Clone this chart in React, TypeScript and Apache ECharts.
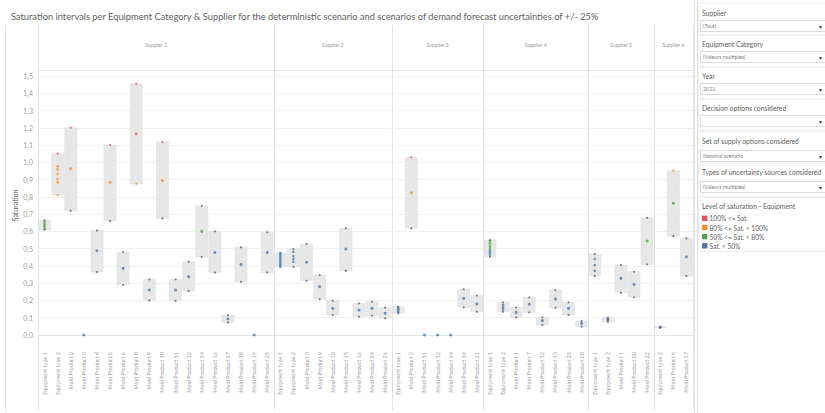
import React, { useEffect, useRef } from "react";
import * as echarts from "echarts";

// ---------- DATA ----------
const supplierNames = ["Supplier 1", "Supplier 2", "Supplier 3", "Supplier 4", "Supplier 5", "Supplier 6"];

const supplier1Categories = ["Equipment type 1", "Equipment type 2", "Mold Product 2", "Mold Product 3", "Mold Product 4", "Mold Product 5", "Mold Product 6", "Mold Product 8", "Mold Product 9", "Mold Product 10", "Mold Product 11", "Mold Product 12", "Mold Product 14", "Mold Product 16", "Mold Product 17", "Mold Product 18", "Mold Product 19", "Mold Product 25"];
const supplier1Low = [0.61, 0.81, 0.72, null, 0.365, 0.66, 0.29, 0.875, 0.2, 0.675, 0.198, 0.255, 0.452, 0.362, 0.072, 0.308, null, 0.362];
const supplier1High = [0.665, 1.05, 1.2, null, 0.605, 1.1, 0.48, 1.455, 0.322, 1.118, 0.322, 0.424, 0.748, 0.6, 0.115, 0.508, null, 0.595];
const supplier1Points = [[0.615, 0.625, 0.635, 0.645, 0.655], [0.978, 0.959, 0.932, 0.903, 0.884], [0.963], [0.0], [0.488], [0.884], [0.386], [1.165], [0.261], [0.895], [0.26], [0.338], [0.6], [0.478], [0.093], [0.409], [0.0], [0.478]];

const supplier2Categories = ["Equipment type 1", "Equipment type 2", "Mold Product 3", "Mold Product 9", "Mold Product 10", "Mold Product 15", "Mold Product 16", "Mold Product 24", "Mold Product 26"];
const supplier2Low = [0.395, 0.395, 0.314, 0.208, 0.116, 0.372, 0.106, 0.112, 0.097];
const supplier2High = [0.475, 0.498, 0.527, 0.347, 0.199, 0.618, 0.183, 0.193, 0.158];
const supplier2Points = [[0.47, 0.458, 0.446, 0.434, 0.422, 0.41, 0.4], [0.482, 0.457, 0.44, 0.424], [0.421], [0.28], [0.154], [0.498], [0.145], [0.154], [0.126]];

const supplier3Categories = ["Equipment type 1", "Mold Product 2", "Mold Product 11", "Mold Product 12", "Mold Product 14", "Mold Product 19", "Mold Product 21"];
const supplier3Low = [0.126, 0.618, null, null, null, 0.16, 0.135];
const supplier3High = [0.164, 1.029, null, null, null, 0.265, 0.228];
const supplier3Points = [[0.158, 0.15, 0.142, 0.134], [0.824], [0.0], [0.0], [0.0], [0.212], [0.18]];

const supplier4Categories = ["Equipment type 1", "Equipment type 2", "Mold Product 1", "Mold Product 7", "Mold Product 12", "Mold Product 13", "Mold Product 23", "Mold Product 28"];
const supplier4Low = [0.453, 0.135, 0.102, 0.131, 0.058, 0.158, 0.116, 0.048];
const supplier4High = [0.55, 0.189, 0.16, 0.218, 0.102, 0.26, 0.189, 0.081];
const supplier4Points = [[0.545, 0.53, 0.515, 0.503, 0.49, 0.478, 0.466], [0.174, 0.16, 0.148], [0.131], [0.178], [0.083], [0.208], [0.154], [0.067]];

const supplier5Categories = ["Equipment type 1", "Equipment type 2", "Mold Product 1", "Mold Product 20", "Mold Product 22"];
const supplier5Low = [0.342, 0.077, 0.245, 0.218, 0.409];
const supplier5High = [0.469, 0.1, 0.405, 0.367, 0.679];
const supplier5Points = [[0.44, 0.405, 0.371], [0.095, 0.09, 0.085], [0.328], [0.293], [0.544]];

const supplier6Categories = ["Equipment type 2", "Mold Product 6", "Mold Product 17"];
const supplier6Low = [0.042, 0.573, 0.342];
const supplier6High = [0.048, 0.951, 0.56];
const supplier6Points = [[0.045], [0.763], [0.453]];

const levelLabels = ["100% <= Sat.", "80% <= Sat. < 100%", "50% <= Sat. < 80%", "Sat. < 50%"];
const levelColors = ["#e15759", "#f28e2b", "#59a14f", "#4e79a7"];
const levelThresholds = [1.0, 0.8, 0.5];

const filterTitles = ["Supplier", "Equipment Category", "Year", "Decision options considered", "Set of supply options considered", "Types of uncertainty sources considered"];
const filterValues = ["(Tout)", "(Valeurs multiples)", "2021", "", "Nominal scenario", "(Valeurs multiples)"];

const titleText = "Saturation intervals per Equipment Category & Supplier for the deterministic scenario and scenarios of demand forecast uncertainties of +/- 25%";

// ---------- LAYOUT ----------
const FONT = 'Lato, "Open Sans", "Noto Sans", sans-serif';
const PLOT_LEFT = 38;
const BAND = 13.1;
const Y_TOP = 76; // pixel of 1.5
const Y_ZERO = 335; // pixel of 0.0
const CHART_H = 413;

const suppliers = [
  { cats: supplier1Categories, low: supplier1Low, high: supplier1High, pts: supplier1Points },
  { cats: supplier2Categories, low: supplier2Low, high: supplier2High, pts: supplier2Points },
  { cats: supplier3Categories, low: supplier3Low, high: supplier3High, pts: supplier3Points },
  { cats: supplier4Categories, low: supplier4Low, high: supplier4High, pts: supplier4Points },
  { cats: supplier5Categories, low: supplier5Low, high: supplier5High, pts: supplier5Points },
  { cats: supplier6Categories, low: supplier6Low, high: supplier6High, pts: supplier6Points },
];

function levelColor(v: number) {
  if (v >= levelThresholds[0]) return levelColors[0];
  if (v >= levelThresholds[1]) return levelColors[1];
  if (v >= levelThresholds[2]) return levelColors[2];
  return levelColors[3];
}
function boundColor(v: number) {
  if (v >= levelThresholds[1]) return levelColor(v);
  return "#5d6470";
}

function buildOption() {
  const grids: any[] = [];
  const xAxes: any[] = [];
  const topAxes: any[] = [];
  const yAxes: any[] = [];
  const series: any[] = [];
  const boundaries: number[] = [PLOT_LEFT];
  let cum = 0;
  suppliers.forEach((s, k) => {
    const left = PLOT_LEFT + BAND * cum;
    const width = BAND * s.cats.length;
    cum += s.cats.length;
    boundaries.push(PLOT_LEFT + BAND * cum);
    grids.push({ left, width, top: Y_TOP, height: Y_ZERO - Y_TOP, containLabel: false });
    xAxes.push({
      type: "category",
      gridIndex: k,
      data: s.cats,
      position: "bottom",
      offset: 13,
      axisLine: { show: true, lineStyle: { color: "#e4e4e4", width: 1 } },
      axisTick: { show: false },
      axisLabel: { rotate: 90, interval: 0, fontSize: 5.5, color: "#a0a0a0", margin: 4, fontFamily: FONT },
      splitLine: { show: false },
    });
    topAxes.push({
      type: "category",
      gridIndex: k,
      data: [""],
      position: "top",
      offset: 6,
      axisLine: { show: true, lineStyle: { color: "#e4e4e4", width: 1 } },
      axisTick: { show: false },
      axisLabel: { show: false },
      name: supplierNames[k],
      nameLocation: "middle",
      nameGap: 23,
      nameTextStyle: { fontSize: 5, color: "#999", fontFamily: FONT },
    });
    yAxes.push({
      type: "value",
      gridIndex: k,
      min: 0,
      max: 1.5,
      interval: 0.1,
      axisLine: { show: false },
      axisTick: { show: false },
      splitLine: { show: true, lineStyle: { color: "#f1f1f1", width: 1 } },
      axisLabel: {
        show: k === 0,
        fontSize: 7,
        color: "#a0a0a0",
        margin: 5,
        fontFamily: FONT,
        formatter: (v: number) => v.toFixed(1).replace(".", ","),
      },
      name: k === 0 ? "Saturation" : "",
      nameLocation: "middle",
      nameGap: 20,
      nameTextStyle: { fontSize: 7, color: "#555", fontFamily: FONT },
    });

    const boxData: any[] = [];
    const boundData: any[] = [];
    const pointData: any[] = [];
    s.cats.forEach((_, i) => {
      const lo = s.low[i];
      const hi = s.high[i];
      if (lo !== null && hi !== null) {
        boxData.push([i, lo, hi]);
        boundData.push({ value: [i, lo], itemStyle: { color: boundColor(lo as number) } });
        boundData.push({ value: [i, hi], itemStyle: { color: boundColor(hi as number) } });
      }
      const many = s.pts[i].length > 1;
      s.pts[i].forEach((v) => {
        pointData.push({ value: [i, v], symbolSize: many ? 2.6 : 3, itemStyle: { color: levelColor(v) } });
      });
    });

    series.push({
      type: "custom",
      xAxisIndex: k,
      yAxisIndex: k,
      z: 1,
      encode: { x: 0, y: [1, 2] },
      data: boxData,
      renderItem: (params: any, api: any) => {
        const x = api.value(0);
        const p0 = api.coord([x, api.value(1)]);
        const p1 = api.coord([x, api.value(2)]);
        const w = api.size([1, 0])[0] * 0.92;
        return {
          type: "rect",
          shape: { x: p0[0] - w / 2, y: p1[1], width: w, height: Math.max(p0[1] - p1[1], 1.2) },
          style: { fill: "#e7e7e7", stroke: "#dddddd", lineWidth: 0.5 },
        };
      },
    });
    series.push({
      type: "scatter",
      xAxisIndex: k,
      yAxisIndex: k,
      z: 2,
      symbolSize: 2.2,
      data: boundData,
    });
    series.push({
      type: "scatter",
      xAxisIndex: k,
      yAxisIndex: k,
      z: 3,
      symbolSize: 3,
      data: pointData,
    });
  });

  const graphic: any[] = [];
  graphic.push({
    type: "text",
    x: 11,
    y: 16,
    style: { text: titleText, fontSize: 9.3, fill: "#606060", fontFamily: FONT, textVerticalAlign: "middle" },
  });
  // frame lines
  graphic.push({ type: "line", shape: { x1: 5.5, y1: 25, x2: 5.5, y2: 412 }, style: { stroke: "#e6e6e6", lineWidth: 1 } });
  boundaries.forEach((bx) => {
    graphic.push({ type: "line", shape: { x1: Math.round(bx) + 0.5, y1: 25, x2: Math.round(bx) + 0.5, y2: 410 }, style: { stroke: "#e2e2e2", lineWidth: 1 } });
  });
  // right panel
  const PX = 697;
  graphic.push({ type: "line", shape: { x1: PX - 2.5, y1: 0, x2: PX - 2.5, y2: 413 }, style: { stroke: "#e6e6e6", lineWidth: 1 } });
  graphic.push({ type: "line", shape: { x1: PX + 0.5, y1: 0, x2: PX + 0.5, y2: 413 }, style: { stroke: "#e0e0e0", lineWidth: 1 } });
  const titleY = [12.5, 44, 76, 108, 141, 172];
  const boxY = [20.5, 51.5, 83.5, 115.5, 150.5, 181.5];
  filterTitles.forEach((t, i) => {
    graphic.push({
      type: "rect",
      shape: { x: PX + 1.5, y: titleY[i] - 9, width: 130, height: boxY[i] + 15 - (titleY[i] - 9) },
      style: { fill: "none", stroke: "#f0f0f0", lineWidth: 1 },
    });
    graphic.push({
      type: "text",
      x: 702,
      y: titleY[i],
      style: { text: t, fontSize: 6.8, fill: "#606060", fontFamily: FONT, textVerticalAlign: "middle" },
    });
    graphic.push({
      type: "rect",
      shape: { x: 700.5, y: boxY[i], width: 130, height: 11 },
      style: { fill: "#fff", stroke: "#dadada", lineWidth: 1 },
    });
    graphic.push({
      type: "text",
      x: 703,
      y: boxY[i] + 5.8,
      style: { text: filterValues[i], fontSize: 5.3, fill: "#808080", fontFamily: FONT, textVerticalAlign: "middle" },
    });
    graphic.push({
      type: "text",
      x: 819,
      y: boxY[i] + 5.8,
      style: { text: "▾", fontSize: 6, fill: "#444", fontFamily: FONT, textVerticalAlign: "middle" },
    });
  });
  // legend card
  graphic.push({
    type: "rect",
    shape: { x: PX + 1.5, y: 197.5, width: 130, height: 54 },
    style: { fill: "none", stroke: "#ececec", lineWidth: 1 },
  });
  graphic.push({
    type: "text",
    x: 702,
    y: 205.5,
    style: { text: "Level of saturation - Equipment", fontSize: 6.8, fill: "#606060", fontFamily: FONT, textVerticalAlign: "middle" },
  });
  const legY = [218.3, 227.5, 236.7, 245.8];
  levelLabels.forEach((l, i) => {
    graphic.push({ type: "rect", shape: { x: 702, y: legY[i] - 2.7, width: 5.4, height: 5.4 }, style: { fill: levelColors[i] } });
    graphic.push({
      type: "text",
      x: 709.5,
      y: legY[i],
      style: { text: l, fontSize: 6.6, fill: "#606060", fontFamily: FONT, textVerticalAlign: "middle" },
    });
  });

  return {
    animation: false,
    backgroundColor: "#ffffff",
    textStyle: { fontFamily: FONT },
    grid: grids,
    xAxis: [...xAxes, ...topAxes],
    yAxis: yAxes,
    series,
    graphic,
  };
}

export default function App() {
  const ref = useRef<HTMLDivElement>(null);
  useEffect(() => {
    if (!ref.current) return;
    const chart = echarts.init(ref.current, undefined, { renderer: "svg" });
    chart.setOption(buildOption() as any);
    return () => chart.dispose();
  }, []);
  return <div ref={ref} style={{ position: "fixed", left: 0, top: 0, width: 825, height: CHART_H, background: "#fff" }} />;
}
